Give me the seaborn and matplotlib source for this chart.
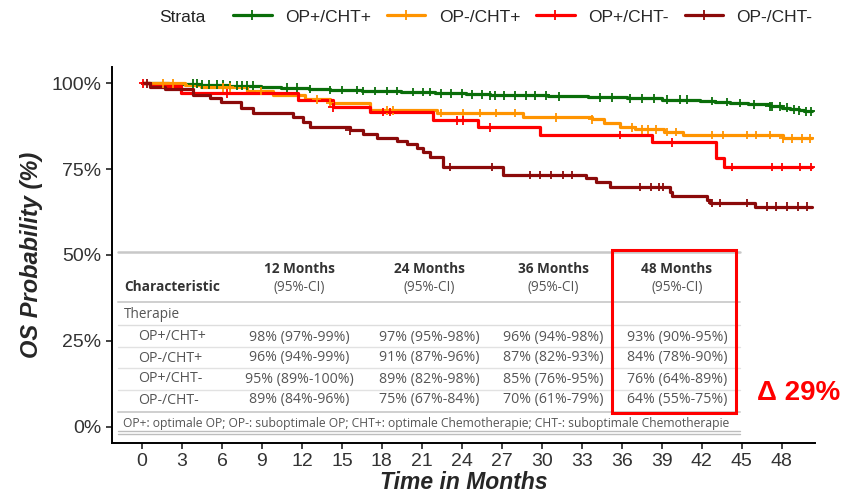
import numpy as np
import pandas as pd
import matplotlib.pyplot as plt
from matplotlib.lines import Line2D
from matplotlib.patches import Rectangle
import seaborn as sns

strata = ['OP+/CHT+', 'OP-/CHT+', 'OP+/CHT-', 'OP-/CHT-']
colors = ['#0a6e0a', '#ff9400', '#ff0000', '#8b0a0a']
t_end = 50.3

# step curves (months, survival)
green_t = [0, 2.0, 4.4, 6.5, 8.9, 10.4, 12.5, 14.1, 16.5, 19.4, 22.0, 24.3, 26.1, 30.5, 33.5,
           36.4, 39.0, 41.9, 43.0, 44.1, 45.5, 47.1, 48.0, 48.6, 49.3, 49.7]
green_s = [1.0, 0.998, 0.996, 0.993, 0.990, 0.987, 0.983, 0.980, 0.977, 0.974, 0.971, 0.968, 0.965,
           0.962, 0.959, 0.956, 0.952, 0.948, 0.945, 0.942, 0.938, 0.933, 0.929, 0.924, 0.921, 0.918]
orange_t = [0, 3.2, 4.4, 7.9, 9.8, 12.2, 14.1, 17.1, 22.1, 28.6, 33.8, 34.7, 35.9, 37.0, 39.2, 40.6, 48.1]
orange_s = [1.0, 0.994, 0.988, 0.977, 0.965, 0.953, 0.942, 0.921, 0.913, 0.901, 0.895, 0.884, 0.872,
            0.866, 0.858, 0.849, 0.840]
red_t = [0, 0.6, 2.9, 11.7, 14.3, 17.1, 21.8, 25.2, 29.9, 38.3, 43.1, 43.7]
red_s = [1.0, 0.991, 0.971, 0.950, 0.930, 0.916, 0.892, 0.872, 0.849, 0.828, 0.782, 0.756]
dred_t = [0, 0.6, 1.7, 3.8, 5.1, 5.9, 7.4, 8.3, 11.3, 12.1, 12.6, 15.6, 16.6, 17.6, 19.1, 19.9, 20.6,
          21.1, 21.6, 22.6, 27.1, 33.3, 34.1, 35.1, 39.6, 39.8, 42.4, 42.6, 46.0]
dred_s = [1.0, 0.990, 0.982, 0.965, 0.956, 0.945, 0.927, 0.913, 0.901, 0.887, 0.872, 0.863, 0.852,
          0.840, 0.831, 0.823, 0.811, 0.799, 0.785, 0.756, 0.733, 0.724, 0.712, 0.698, 0.683, 0.671,
          0.660, 0.651, 0.640]

# censoring times
green_c = [3.8, 4.1, 4.5, 5.0, 5.6, 6.1, 6.6, 7.1, 7.5, 7.9, 8.3, 10.9, 11.6, 12.6, 14.1, 15.0, 16.1,
           16.6, 17.5, 18.4, 19.1, 20.3, 21.1, 21.6, 22.4, 23.2, 24.0, 24.8, 25.5, 26.1, 26.5, 27.2,
           28.0, 28.8, 29.5, 30.3, 31.3, 34.4, 35.3, 36.6, 37.5, 38.4, 39.4, 40.4, 40.9, 42.8, 43.9,
           44.9, 45.9, 47.1, 47.3, 47.9, 48.4, 48.9, 49.3, 49.8, 50.2]
orange_c = [1.6, 2.3, 6.1, 6.6, 8.9, 13.1, 14.1, 18.4, 18.8, 22.4, 24.1, 25.4, 26.6, 28.0, 31.1, 33.8,
            36.8, 37.5, 38.0, 38.6, 39.4, 40.1, 42.8, 43.6, 45.4, 46.1, 47.1, 48.1, 48.8, 49.5, 50.1]
red_c = [0.1, 6.4, 14.3, 18.1, 18.6, 23.6, 24.1, 26.1, 35.9, 39.8, 44.3, 47.3, 48.0, 49.4, 50.2]
dred_c = [0.4, 15.6, 23.1, 26.3, 29.1, 29.9, 30.7, 31.6, 32.3, 37.4, 38.2, 38.8, 39.1, 42.8, 43.4,
          45.4, 46.9, 47.6, 48.4, 49.2, 49.9]

months = ['12 Months', '24 Months', '36 Months', '48 Months']
tab_rows = {
    'OP+/CHT+': ['98% (97%-99%)', '97% (95%-98%)', '96% (94%-98%)', '93% (90%-95%)'],
    'OP-/CHT+': ['96% (94%-99%)', '91% (87%-96%)', '87% (82%-93%)', '84% (78%-90%)'],
    'OP+/CHT-': ['95% (89%-100%)', '89% (82%-98%)', '85% (76%-95%)', '76% (64%-89%)'],
    'OP-/CHT-': ['89% (84%-96%)', '75% (67%-84%)', '70% (61%-79%)', '64% (55%-75%)'],
}
footnote = 'OP+: optimale OP; OP-: suboptimale OP; CHT+: optimale Chemotherapie; CHT-: suboptimale Chemotherapie'
delta_label = '\u0394 29%'

curves = [(green_t, green_s, green_c), (orange_t, orange_s, orange_c),
          (red_t, red_s, red_c), (dred_t, dred_s, dred_c)]

line_rows = []
cens_rows = []
for name, (t, s, c) in zip(strata, curves):
    tt = list(t) + [t_end]
    ss = list(s) + [s[-1]]
    for a, b in zip(tt, ss):
        line_rows.append((name, a, b))
    idx = np.searchsorted(np.array(t), np.array(c), side='right') - 1
    for a, i in zip(c, idx):
        cens_rows.append((name, a, s[i]))
df_line = pd.DataFrame(line_rows, columns=['Strata', 'time', 'surv'])
df_cens = pd.DataFrame(cens_rows, columns=['Strata', 'time', 'surv'])

sns.set_theme(style='ticks')
plt.rcParams['font.family'] = ['Liberation Sans', 'DejaVu Sans']

W, H = 844, 497
fig = plt.figure(figsize=(W / 100, H / 100), dpi=100)
ax = fig.add_axes([112 / W, 1 - 443 / H, (815 - 112) / W, (443 - 67) / H])

pal = dict(zip(strata, colors))
sns.lineplot(data=df_line, x='time', y='surv', hue='Strata', palette=pal, estimator=None,
             drawstyle='steps-post', linewidth=2.3, legend=False, ax=ax)
sns.scatterplot(data=df_cens, x='time', y='surv', hue='Strata', palette=pal, marker='+',
                s=40, linewidth=1.3, legend=False, ax=ax, zorder=3)

ax.set_xlim(-2.25, 50.5)
ax.set_ylim(-0.047, 1.047)
ax.set_xticks(np.arange(0, 49, 3))
ax.set_yticks([0, 0.25, 0.5, 0.75, 1.0])
ax.set_yticklabels(['0%', '25%', '50%', '75%', '100%'])
ax.tick_params(labelsize=14, colors='#222222', length=4, width=1.2, labelcolor='#333333')
for sp in ['left', 'bottom']:
    ax.spines[sp].set_linewidth(1.4)
    ax.spines[sp].set_color('black')
sns.despine(ax=ax)
ax.set_xlabel('Time in Months', fontsize=16.5, fontweight='bold', fontstyle='italic', labelpad=0.5)
ax.set_ylabel('OS Probability (%)', fontsize=17, fontweight='bold', fontstyle='italic', labelpad=6)

# legend
handles = [Line2D([], [], color=c, lw=2.3, marker='+', markersize=7, markeredgewidth=1.3)
           for c in colors]
fig.legend(handles, strata, loc='center', bbox_to_anchor=(523 / W, 1 - 17 / H), ncol=4,
           frameon=False, fontsize=12.5, handlelength=2.2, columnspacing=0.9, handletextpad=0.8)
fig.text(182 / W, 1 - 17 / H, 'Strata', fontsize=12.5, ha='center', va='center', color='#222222')

# table overlay in pixel coordinates
ov = fig.add_axes([0, 0, 1, 1])
ov.set_xlim(0, W)
ov.set_ylim(H, 0)
ov.axis('off')
tfont = ['Open Sans', 'DejaVu Sans']
x0, x1 = 118, 740
ov.add_patch(Rectangle((x0, 250), x1 - x0, 186, facecolor='white', edgecolor='none', zorder=1))
for y, c, lw in [(252, '#c8c8c8', 1.8), (302, '#cfcfcf', 1.4), (325, '#dddddd', 1),
                 (347, '#e2e2e2', 1), (368, '#e2e2e2', 1), (390, '#e2e2e2', 1),
                 (412, '#cfcfcf', 1.4), (431, '#bdbdbd', 1), (434, '#bdbdbd', 1)]:
    ov.plot([x0, x1], [y, y], color=c, lw=lw, zorder=2)
col_x = [299, 429, 553, 677]
for cx, m in zip(col_x, months):
    ov.text(cx, 269, m, ha='center', va='center', fontsize=9.8, fontweight='bold',
            color='#333333', family=tfont, zorder=3)
    ov.text(cx, 287, '(95%-CI)', ha='center', va='center', fontsize=9.8, color='#555555',
            family=tfont, zorder=3)
ov.text(124, 287, 'Characteristic', ha='left', va='center', fontsize=9.8, fontweight='bold',
        color='#333333', family=tfont, zorder=3)
ov.text(124, 315, 'Therapie', ha='left', va='center', fontsize=9.8, color='#555555',
        family=tfont, zorder=3)
row_y = [337, 358, 379, 400]
for ry, (lab, vals) in zip(row_y, tab_rows.items()):
    ov.text(138, ry, lab, ha='left', va='center', fontsize=10.2, color='#555555',
            family=tfont, zorder=3)
    for cx, v in zip(col_x, vals):
        ov.text(cx, ry, v, ha='center', va='center', fontsize=10.2, color='#555555',
                family=tfont, zorder=3)
ov.text(123, 423, footnote, ha='left', va='center', fontsize=8.7, color='#555555',
        family=tfont, zorder=3)
ov.add_patch(Rectangle((612, 250), 124, 163, facecolor='none', edgecolor='#ff0000', lw=2.2, zorder=4))
ov.text(799, 393, delta_label, ha='center', va='center', fontsize=20, fontweight='bold',
        color='#ff0000', zorder=4)

fig.savefig('out.png', dpi=100)
